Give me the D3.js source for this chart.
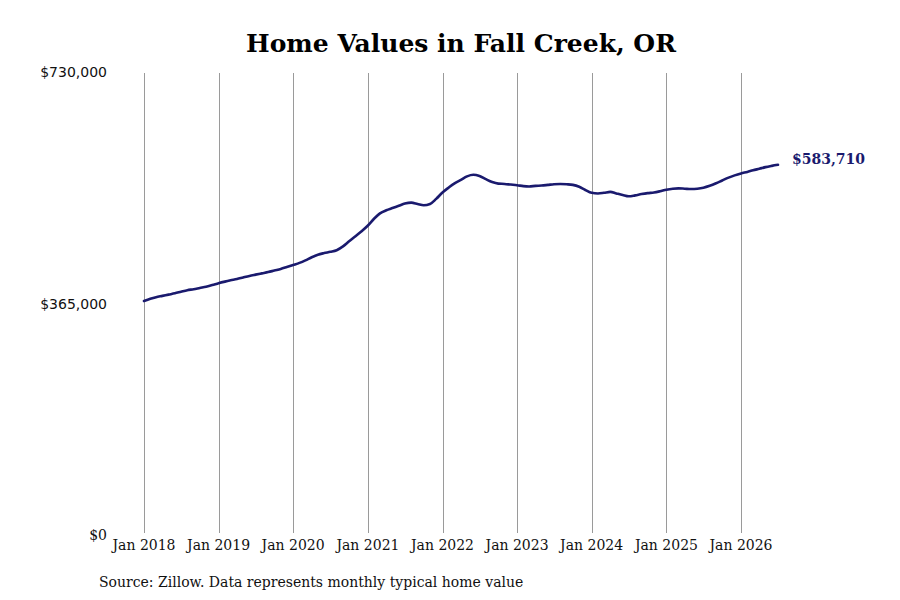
<!DOCTYPE html>
<html>
<head>
<meta charset="utf-8">
<script src="https://cdn.jsdelivr.net/npm/d3@7"></script>
<style>
body { margin: 0; background: #fff; }
svg { display: block; }
</style>
</head>
<body>
<svg id="chart" width="900" height="600"></svg>
<script>
const startMonth = "2018-01";
const homeValues = [
  // 2018
  369000, 372500, 375000, 377000, 379000, 381000, 383500, 386000, 387500, 389500, 391500, 394000,
  // 2019
  397000, 399500, 401500, 403500, 406000, 408500, 410500, 412500, 414500, 417000, 419500, 422500,
  // 2020
  425700, 429000, 433000, 438000, 442000, 444500, 446500, 449000, 455000, 463000, 471000, 479000,
  // 2021
  488000, 499000, 507000, 512000, 515500, 519000, 522500, 524000, 522000, 520000, 522000, 530000,
  // 2022
  540000, 548000, 554500, 560000, 565500, 568000, 566000, 561000, 556500, 554000, 553500, 552500,
  // 2023
  551500, 550000, 549500, 550500, 551000, 552000, 553000, 553500, 553000, 552000, 549000, 544000,
  // 2024
  539500, 538500, 539500, 541000, 538500, 536000, 534000, 535500, 537500, 539000, 540000, 542000,
  // 2025
  544500, 546000, 546500, 546000, 545500, 546000, 547500, 550500, 554500, 559000, 563500, 567000,
  // 2026
  570000, 572500, 575000, 577500, 580000, 582000, 583710
];
const xTickYears = [2018, 2019, 2020, 2021, 2022, 2023, 2024, 2025, 2026];
const yTickValues = [0, 365000, 730000];
const titleText = "Home Values in Fall Creek, OR";
const sourceText = "Source: Zillow. Data represents monthly typical home value";

const svg = d3.select("#chart");
const parse = d3.timeParse("%Y-%m");
const start = parse(startMonth);
const data = homeValues.map((v, i) => ({ date: d3.timeMonth.offset(start, i), value: v }));

const x = d3.scaleTime()
  .domain([new Date(2018, 0, 1), new Date(2026, 0, 1)])
  .range([144, 741]);
const y = d3.scaleLinear().domain([0, 730000]).range([535, 72]);

// vertical gridlines
svg.append("g").selectAll("line")
  .data(xTickYears)
  .join("line")
  .attr("x1", d => Math.round(x(new Date(d, 0, 1))) + 0.5)
  .attr("x2", d => Math.round(x(new Date(d, 0, 1))) + 0.5)
  .attr("y1", 73)
  .attr("y2", 533)
  .attr("stroke", "#9a9a9a")
  .attr("stroke-width", 1);

// x tick labels
svg.append("g").selectAll("text")
  .data(xTickYears)
  .join("text")
  .attr("x", d => x(new Date(d, 0, 1)))
  .attr("y", 550)
  .attr("text-anchor", "middle")
  .attr("font-family", "DejaVu Serif")
  .attr("font-size", 14)
  .attr("fill", "#111")
  .text(d => "Jan " + d);

// y tick labels
const fmt = d3.format("$,");
svg.append("g").selectAll("text")
  .data(yTickValues)
  .join("text")
  .attr("x", 107)
  .attr("y", d => y(d) + 5)
  .attr("text-anchor", "end")
  .attr("font-family", d => d === 0 ? "DejaVu Serif" : "DejaVu Sans")
  .attr("font-size", 14)
  .attr("fill", "#111")
  .text(d => fmt(d));

// line
const line = d3.line()
  .x(d => x(d.date))
  .y(d => y(d.value))
  .curve(d3.curveMonotoneX);

svg.append("path")
  .datum(data)
  .attr("d", line)
  .attr("fill", "none")
  .attr("stroke", "#1a1a6e")
  .attr("stroke-width", 2.6)
  .attr("stroke-linejoin", "round")
  .attr("stroke-linecap", "round");

// end label
const last = data[data.length - 1];
svg.append("text")
  .attr("x", x(last.date) + 14)
  .attr("y", y(last.value) - 0.5)
  .attr("font-family", "DejaVu Serif")
  .attr("font-weight", "bold")
  .attr("font-size", 14)
  .attr("fill", "#1a1a6e")
  .text(fmt(last.value));

// title
svg.append("text")
  .attr("x", 461)
  .attr("y", 52)
  .attr("text-anchor", "middle")
  .attr("font-family", "DejaVu Serif")
  .attr("font-weight", "bold")
  .attr("font-size", 25)
  .attr("fill", "#000")
  .text(titleText);

// source
svg.append("text")
  .attr("x", 99)
  .attr("y", 587)
  .attr("font-family", "DejaVu Serif")
  .attr("font-size", 14)
  .attr("fill", "#111")
  .text(sourceText);
</script>
</body>
</html>
